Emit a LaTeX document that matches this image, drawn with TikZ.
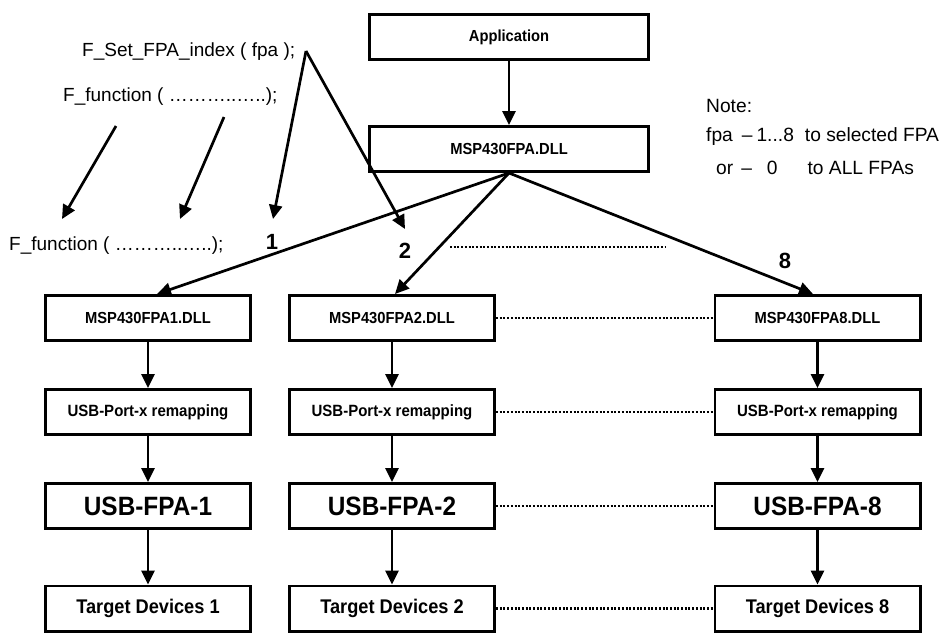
\documentclass[tikz,border=0pt]{standalone}
\usepackage{fontspec}
\setmainfont{Liberation Sans}
\newfontfamily\narrowfont[FakeStretch=0.92]{Liberation Sans}
\usetikzlibrary{arrows.meta,calc}
\tikzset{
  box/.style={draw, line width=2.7pt, minimum width=205.3pt, minimum height=45.3pt, inner sep=0pt, align=center},
  conn/.style={line width=2.7pt, -{Triangle[length=14pt,width=13pt]}},
  dots/.style={line width=2.4pt, dash pattern=on 2pt off 1.7pt},
  dllfont/.style={font=\narrowfont\bfseries\fontsize{16}{18}\selectfont},
  portfont/.style={font=\narrowfont\bfseries\fontsize{16.3}{18}\selectfont},
  usbfont/.style={font=\narrowfont\bfseries\fontsize{26.5}{28}\selectfont},
  tgtfont/.style={font=\narrowfont\bfseries\fontsize{19.8}{22}\selectfont},
  codefont/.style={font=\fontsize{19}{21}\selectfont, inner sep=0pt},
  notefont/.style={font=\fontsize{19.2}{21}\selectfont, inner sep=0pt, anchor=west},
  numfont/.style={font=\bfseries\fontsize{22}{24}\selectfont, inner sep=0pt},
}
\begin{document}
\begin{tikzpicture}[x=1pt,y=-1pt]
\useasboundingbox (0,0) rectangle (944,633);
% top boxes
\node[box, minimum width=279.3pt, dllfont] (app) at (509,37) {Application};
\node[box, minimum width=279.3pt, dllfont] (dll) at (509,149) {MSP430FPA.DLL};
% column boxes
\foreach \c/\x in {1/148,2/392,8/817.5}{
  \node[box, dllfont]  (d\c) at (\x,318) {MSP430FPA\c.DLL};
  \node[box, portfont] (p\c) at (\x,412) {USB-Port-x remapping};
  \node[box, usbfont]  (u\c) at (\x,506) {USB-FPA-\c};
  \node[box, tgtfont]  (t\c) at (\x,608.5) {Target Devices \c};
  \draw[conn] (d\c) -- (p\c);
  \draw[conn] (p\c) -- (u\c);
  \draw[conn] (u\c) -- (t\c);
}
\draw[conn] (app) -- (dll);
% dotted links between columns
\foreach \r in {d,p,u,t}{
  \draw[dots] (\r2.east) -- (\r8.west);
}
\coordinate (dl) at (450,247);
\coordinate (dr) at (665,247);
\draw[dots] (dl) -- (dr);
% fan-out from DLL
\coordinate (c1) at ($(d1.north)+(9,0)$);
\coordinate (c2) at ($(d2.north)+(3,0)$);
\coordinate (c8) at ($(d8.north)+(-4.5,0)$);
\draw[conn] (dll.south) -- (c1);
\draw[conn] (dll.south) -- (c2);
\draw[conn] (dll.south) -- (c8);
% numbers
\node[numfont] (n1) at (272,242) {1};
\node[numfont] (n2) at (405,251) {2};
\node[numfont] (n8) at (785,261) {8};
% code texts
\node[codefont, anchor=west] (fset) at (82,52) {F\_Set\_FPA\_index ( fpa );};
\node[codefont, anchor=west] (ffun) at (63,97) {F\_function ( ………..…..);};
\node[codefont, anchor=west] (fbot) at (9,246) {F\_function ( ………..…..);};
\coordinate (apex) at (306,51);
\coordinate (a1) at (273,219);
\coordinate (a2) at (405,229);
\draw[conn] (apex) -- (a1);
\draw[conn] (apex) -- (a2);
\coordinate (f1s) at (116,126);
\coordinate (f1e) at (62,219);
\coordinate (f2s) at (224,117);
\coordinate (f2e) at (180,219);
\draw[conn] (f1s) -- (f1e);
\draw[conn] (f2s) -- (f2e);
% note
\node[notefont] (note) at (706,106) {Note:};
\node[notefont] (note1) at (706,137) {fpa\hspace{9pt}–\hspace{4pt}1...8\hspace{11pt}to selected FPA};
\node[notefont] (note2) at (716,168) {or\hspace{8pt}–\hspace{15pt}0\hspace{30pt}to ALL FPAs};
\end{tikzpicture}
\end{document}
